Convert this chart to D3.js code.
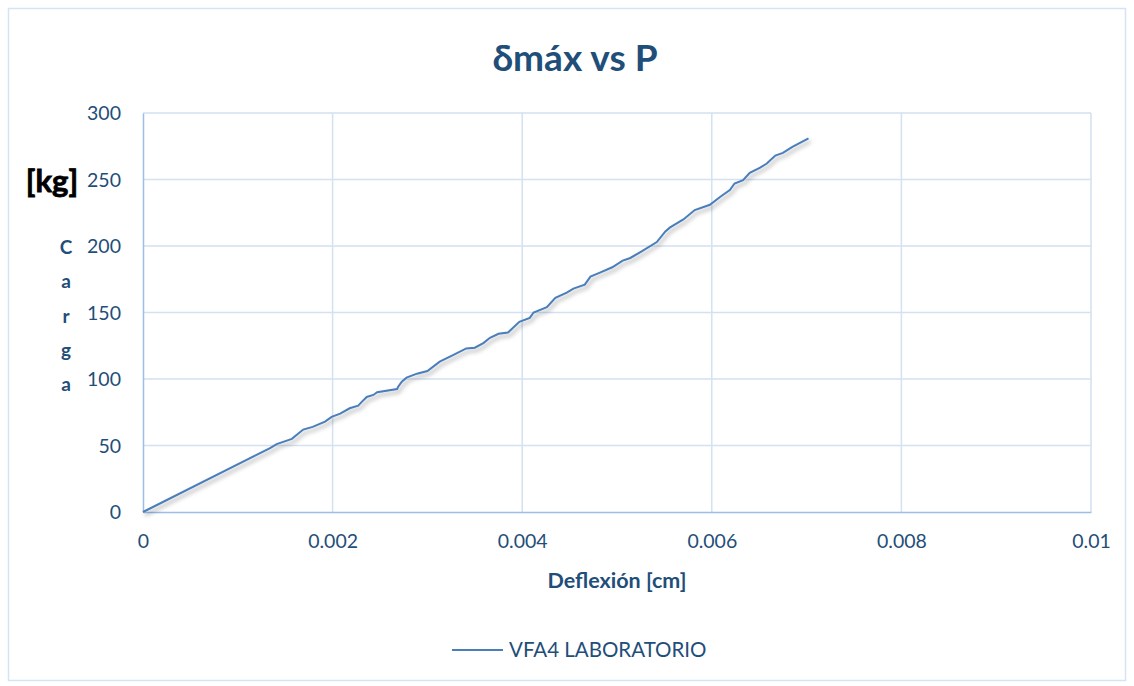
<!DOCTYPE html>
<html>
<head>
<meta charset="utf-8">
<title>δmáx vs P</title>
<script src="https://d3js.org/d3.v7.min.js"></script>
<style>
  body { margin: 0; background: #fff; }
  text { font-family: Lato, "Open Sans", sans-serif; }
</style>
</head>
<body>
<div id="chart"></div>
<script>
// deflexion [cm] y carga [kg]
const deflexion = [0, 0.00134, 0.00141, 0.00157, 0.00169, 0.00179, 0.00192, 0.00199, 0.00208, 0.00218,
  0.00227, 0.00231, 0.00236, 0.00243, 0.00247, 0.00268, 0.00269, 0.00273, 0.00278, 0.00289, 0.003,
  0.00313, 0.00327, 0.00341, 0.0035, 0.00359, 0.00366, 0.00375, 0.00385, 0.00397, 0.00408, 0.00412,
  0.00426, 0.00435, 0.00447, 0.00454, 0.00466, 0.00472, 0.00482, 0.00495, 0.00506, 0.00514, 0.00526,
  0.00542, 0.00551, 0.00556, 0.00563, 0.0057, 0.00582, 0.00598, 0.00609, 0.00619, 0.00624, 0.00633,
  0.0064, 0.00651, 0.00658, 0.00667, 0.00675, 0.00685, 0.00702];
const carga = [0, 48, 51, 55, 62, 64, 68, 71.5, 74, 78,
  80, 83, 86.5, 88, 90, 92.5, 94, 98, 101, 104, 106,
  113, 118, 123, 123.5, 127, 131, 134, 135, 143, 146, 150,
  154, 161, 165, 168, 171, 177, 180, 184, 189, 191, 196,
  203, 211, 214, 217, 220, 227, 231, 237, 242, 247, 249.5,
  255, 259, 262, 268, 270, 274.5, 281];
const xTicks = [0, 0.002, 0.004, 0.006, 0.008, 0.01];
const yTicks = [0, 50, 100, 150, 200, 250, 300];
const serie = "VFA4 LABORATORIO";

const W = 1134, H = 686;
const margin = {left: 143, top: 113, right: W - 1091, bottom: H - 512};
const w = W - margin.left - margin.right;
const h = H - margin.top - margin.bottom;
const azul = "#1f4e79";

const svg = d3.select("#chart").append("svg")
  .attr("width", W).attr("height", H);

// sombra de la linea
const f = svg.append("defs").append("filter").attr("id", "sombra")
  .attr("x", "-5%").attr("y", "-5%").attr("width", "110%").attr("height", "110%");
f.append("feDropShadow").attr("dx", 2).attr("dy", 3).attr("stdDeviation", 2)
  .attr("flood-color", "#000").attr("flood-opacity", 0.35);

// marco exterior
svg.append("rect").attr("x", 8.5).attr("y", 8.5).attr("width", W - 17).attr("height", H - 14)
  .attr("fill", "none").attr("stroke", "#d6e3f3").attr("stroke-width", 1.5);

const g = svg.append("g").attr("transform", "translate(" + margin.left + "," + margin.top + ")");

const xScale = d3.scaleLinear().domain([0, 0.01]).range([0, w]);
const yScale = d3.scaleLinear().domain([0, 300]).range([h, 0]);

// rejilla
g.append("g").selectAll("line").data(xTicks.slice(1)).enter().append("line")
  .attr("x1", d => xScale(d)).attr("x2", d => xScale(d))
  .attr("y1", 0).attr("y2", h)
  .attr("stroke", "#d3e1f2").attr("stroke-width", 1.5);
g.append("g").selectAll("line").data(yTicks.slice(1)).enter().append("line")
  .attr("x1", 0).attr("x2", w)
  .attr("y1", d => yScale(d)).attr("y2", d => yScale(d))
  .attr("stroke", "#d3e1f2").attr("stroke-width", 1.5);

// ejes
const xAxis = d3.axisBottom(xScale).tickValues(xTicks).tickSize(0).tickPadding(22)
  .tickFormat(d => d3.format("")(+d.toFixed(3)));
const yAxis = d3.axisLeft(yScale).tickValues(yTicks).tickSize(0).tickPadding(22);

const gx = g.append("g").attr("transform", "translate(0," + h + ")").call(xAxis);
const gy = g.append("g").call(yAxis);
[gx, gy].forEach(a => {
  a.select(".domain").attr("stroke", "#9dbde6").attr("stroke-width", 1.5);
  a.selectAll("text").attr("fill", azul).style("font-size", "19.5px")
    .style("font-family", "Lato, 'Open Sans', sans-serif");
});
gy.selectAll("text").attr("dy", "0.35em");

// serie
const line = d3.line().x((d, i) => xScale(deflexion[i])).y(d => yScale(d));
g.append("path").datum(carga)
  .attr("d", line)
  .attr("fill", "none").attr("stroke", "#4a7ebb").attr("stroke-width", 2)
  .attr("filter", "url(#sombra)");

// titulo
svg.append("text").attr("x", 575).attr("y", 71).attr("text-anchor", "middle")
  .attr("fill", azul).style("font-size", "37px").style("font-weight", "bold")
  .text("δmáx vs P");

// titulo eje x
svg.append("text").attr("x", 617).attr("y", 588).attr("text-anchor", "middle")
  .attr("fill", azul).style("font-size", "21.5px").style("font-weight", "bold")
  .text("Deflexión [cm]");

// titulo eje y
svg.append("text").attr("x", 52).attr("y", 192).attr("text-anchor", "middle")
  .attr("fill", "#000").attr("stroke", "#000").attr("stroke-width", 0.8)
  .style("font-size", "31px").style("font-weight", "bold")
  .text("[kg]");
const letras = ["C", "a", "r", "g", "a"];
svg.append("g").selectAll("text").data(letras).enter().append("text")
  .attr("x", 66).attr("y", (d, i) => 254 + i * 34.3).attr("text-anchor", "middle")
  .attr("fill", azul).style("font-size", "19px").style("font-weight", "bold")
  .text(d => d);

// leyenda
svg.append("line").attr("x1", 452).attr("x2", 503).attr("y1", 650).attr("y2", 650)
  .attr("stroke", "#4a7ebb").attr("stroke-width", 2);
svg.append("text").attr("x", 509).attr("y", 657)
  .attr("fill", azul).style("font-size", "20.5px")
  .text(serie);
</script>
</body>
</html>
